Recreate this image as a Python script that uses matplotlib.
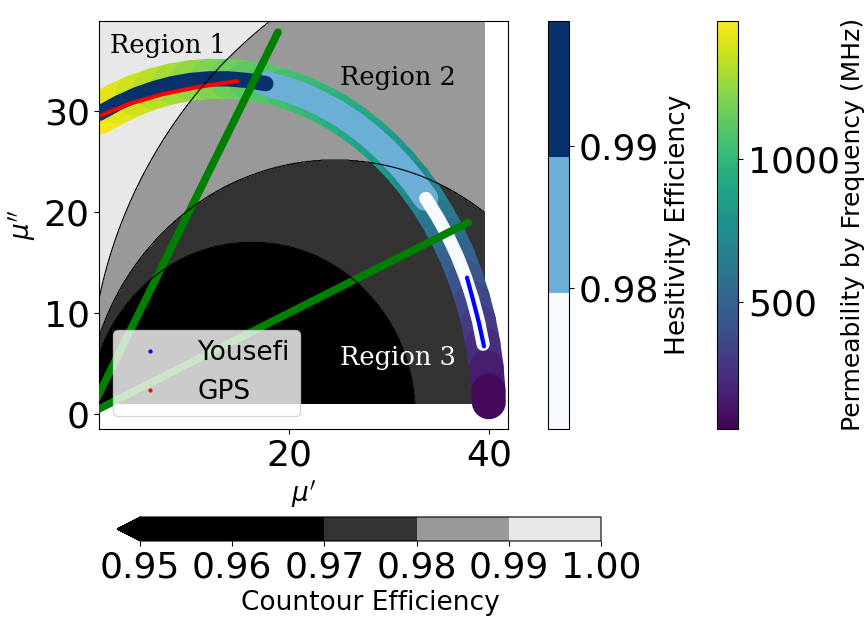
import matplotlib
matplotlib.use('Agg')
import matplotlib.pyplot as plt
import numpy as np
from matplotlib.colors import ListedColormap, BoundaryNorm, Normalize
from matplotlib.collections import LineCollection
from matplotlib.lines import Line2D
import matplotlib.cm as cm

# measured permeability arc (mu', mu'') with frequency in MHz
mu_re = [1.0, 2.89, 4.66, 6.47, 8.31, 10.18, 12.06, 13.94, 15.82, 17.69,
         19.53, 21.34, 23.11, 24.84, 26.5, 28.10, 29.62, 31.07, 32.42, 33.68,
         34.84, 35.90, 36.84, 37.66, 38.37, 38.96, 39.41, 39.74, 39.94, 39.98]
mu_im = [29.75, 30.78, 31.58, 32.21, 32.70, 33.02, 33.18, 33.18, 33.02, 32.70,
         32.21, 31.58, 30.78, 29.84, 28.75, 27.52, 26.16, 24.67, 23.06, 21.34,
         19.51, 17.59, 15.59, 13.50, 11.35, 9.15, 6.90, 4.62, 2.32, 1.16]
freq = [1484, 1441, 1398, 1355, 1313, 1270, 1227, 1184, 1148, 1113,
        1077, 1041, 1006, 970, 934, 899, 856, 813, 770, 713,
        656, 592, 527, 463, 399, 334, 270, 199, 127, 56]
hes_eff = [0.9988, 0.9985, 0.9982, 0.9978, 0.9972, 0.9965, 0.9958, 0.9950, 0.9940, 0.9925,
           0.9885, 0.9875, 0.9865, 0.9855, 0.9845, 0.9835, 0.9825, 0.9815, 0.9805, 0.9790,
           0.9775, 0.9760, 0.9745, 0.9735, 0.9725, 0.9712, 0.9701, np.nan, np.nan, np.nan]

gps_re = [1.3, 4.0, 7.3, 10.5, 13.0, 14.8]
gps_im = [29.6, 30.7, 31.65, 32.3, 32.7, 32.95]
yousefi_re = [37.8, 38.4, 39.0, 39.5]
yousefi_im = [13.5, 11.3, 9.0, 6.7]

# constant loss-tangent lines from the origin
tan_end_re = [18.9, 37.9]
tan_end_im = [37.8, 18.95]

# efficiency boundaries as ellipses: level -> (centre x, centre y, semi x, semi y)
bounds = {0.97: (16.3, 0.0, 16.3, 17.0),
          0.98: (24.6, -1.0, 25.0, 26.15),
          0.99: (47.3, 1.7, 47.3, 47.3)}
levels = [0.95, 0.97, 0.98, 0.99, 1.00]
gray_colors = ['#000000', '#333333', '#999999', '#e8e8e8']

region_names = ['Region 1', 'Region 2', 'Region 3']
region_x = [2.1, 25.1, 25.1]
region_y = [35.7, 32.6, 4.85]
region_col = ['black', 'black', 'white']

fig = plt.figure(figsize=(8.65, 6.17), dpi=100)
ax = fig.add_axes([0.115, 0.3047, 0.4723, 0.6618])

gx, gy = np.meshgrid(np.linspace(1, 39.5, 600), np.linspace(1, 39.5, 600))
parts = [np.full_like(gx, 0.995)]
for lev, (cx, cy, a, b) in bounds.items():
    d = np.sqrt(((gx - cx) / a) ** 2 + ((gy - cy) / b) ** 2)
    parts.append(lev + np.clip(10 * (d - 1), -0.005, 0.05))
Z = np.min(parts, axis=0)

gcmap = ListedColormap(gray_colors)
gcmap.set_under('black')
gnorm = BoundaryNorm(levels, gcmap.N)
cf = ax.contourf(gx, gy, Z, levels=levels, cmap=gcmap, norm=gnorm, extend='min', zorder=0)
ax.contour(gx, gy, Z, levels=[0.97, 0.98, 0.99], colors='k', linewidths=0.8, zorder=8)

# frequency band
pts = np.column_stack([mu_re, mu_im])
segs = np.stack([pts[:-1], pts[1:]], axis=1)
fnorm = Normalize(min(freq), max(freq))
lc = LineCollection(segs, cmap='viridis', norm=fnorm,
                    linewidths=np.linspace(30, 24.5, len(segs)), capstyle='round', zorder=2)
f = np.array(freq, dtype=float)
lc.set_array((f[:-1] + f[1:]) / 2)
ax.add_collection(lc)

# hesitivity efficiency band
hes = np.array(hes_eff)
bcmap = plt.get_cmap('Blues', 3)
bnorm = Normalize(np.nanmin(hes), np.nanmax(hes))
edges = np.linspace(np.nanmin(hes), np.nanmax(hes), 4)
cls = np.digitize(hes, edges[1:-1])
xr = np.array(mu_re)
yr = np.array(mu_im)
widths = {0: 9.5, 1: 18, 2: 11}
for c, z in [(1, 3), (2, 4), (0, 4)]:
    idx = np.where((cls == c) & ~np.isnan(hes))[0]
    if c == 1:
        idx = np.arange(idx[0] - 1, idx[-1] + 2)
    col = bcmap((c + 0.5) / 3)
    ax.plot(xr[idx], yr[idx], color=col, lw=widths[c], solid_capstyle='round', zorder=z)

ax.plot(gps_re, gps_im, color='red', lw=3, solid_capstyle='round', zorder=5)
ax.plot(yousefi_re, yousefi_im, color='blue', lw=3, solid_capstyle='round', zorder=5)

for xe, ye in zip(tan_end_re, tan_end_im):
    ax.plot([0, xe], [0, ye], color='green', lw=5.5, solid_capstyle='round', zorder=6)

for name, tx, ty, tc in zip(region_names, region_x, region_y, region_col):
    ax.text(tx, ty, name, family='DejaVu Serif', fontsize=18.5, color=tc, va='baseline', zorder=9)

handles = [Line2D([], [], ls='', marker='o', ms=2, color='blue', label='Yousefi'),
           Line2D([], [], ls='', marker='o', ms=2, color='red', label='GPS')]
leg = ax.legend(handles=handles, loc='lower left', fontsize=19)
leg.set_zorder(10)

ax.set_xlim(1.05, 41.9)
ax.set_ylim(-1.49, 38.94)
ax.set_xticks([20, 40])
ax.set_yticks([0, 10, 20, 30])
ax.tick_params(labelsize=26)
ax.set_xlabel(r"$\mu'$", fontsize=19)
ax.set_ylabel(r"$\mu''$", fontsize=19)

# colorbars
cax1 = fig.add_axes([0.6335, 0.3047, 0.0243, 0.6618])
sm1 = cm.ScalarMappable(norm=bnorm, cmap=bcmap)
cb1 = fig.colorbar(sm1, cax=cax1, ticks=[0.98, 0.99])
cb1.ax.tick_params(labelsize=26)
cb1.set_label('Hesitivity Efficiency', fontsize=19)

cax2 = fig.add_axes([0.829, 0.3047, 0.0243, 0.6618])
sm2 = cm.ScalarMappable(norm=fnorm, cmap='viridis')
cb2 = fig.colorbar(sm2, cax=cax2, ticks=[500, 1000])
cb2.ax.tick_params(labelsize=26)
cb2.set_label('Permeability by Frequency (MHz)', fontsize=18, labelpad=1)

cax3 = fig.add_axes([0.1353, 0.1232, 0.5595, 0.0389])
cb3 = fig.colorbar(cf, cax=cax3, orientation='horizontal', spacing='proportional',
                   ticks=[0.95, 0.96, 0.97, 0.98, 0.99, 1.00])
cb3.ax.set_xticklabels(['0.95', '0.96', '0.97', '0.98', '0.99', '1.00'])
cb3.ax.tick_params(labelsize=26)
cb3.set_label('Countour Efficiency', fontsize=19)

fig.savefig('out.png', dpi=100)
